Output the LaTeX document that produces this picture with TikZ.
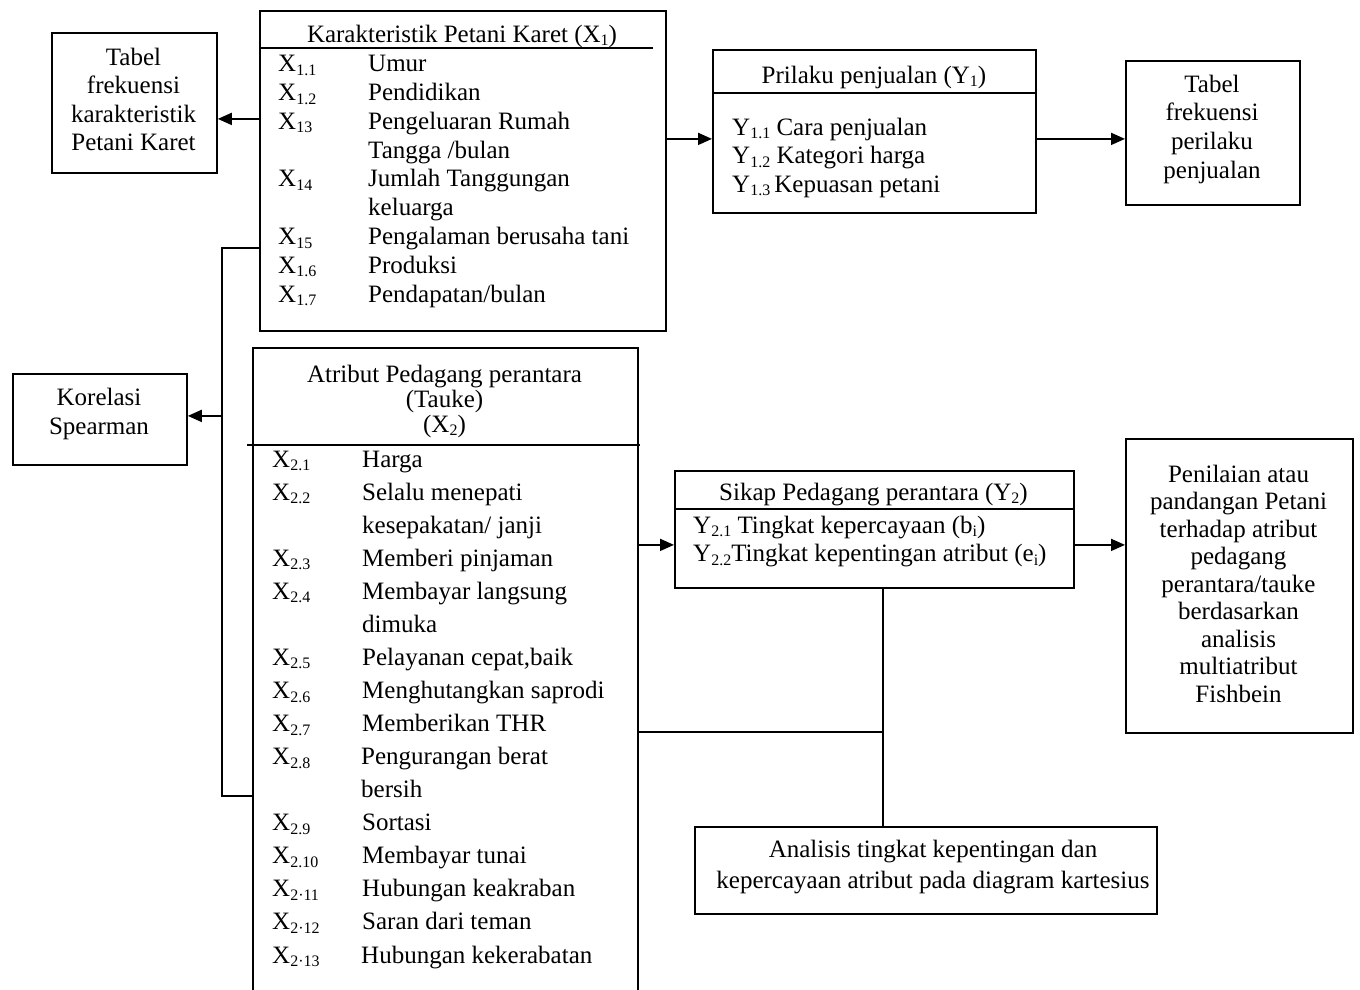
\documentclass[tikz,border=0pt]{standalone}
\usepackage{fontspec}
\setmainfont{Liberation Serif}
\usetikzlibrary{arrows.meta}
\newcommand\sbs[1]{\raisebox{-3.5pt}{\fontsize{16}{16}\selectfont #1}}
\newcommand\lbl[2]{\makebox[#1pt][l]{#2}}
\begin{document}
\begin{tikzpicture}[x=1pt,y=-1pt,
  box/.style={draw, line width=1.8pt, inner sep=0pt, anchor=north west},
  ln/.style={line width=1.8pt},
  arr/.style={line width=1.8pt, -{Triangle[length=14pt,width=12pt]}},
  txt/.style={anchor=base west, inner sep=0pt, font=\fontsize{25}{30}\selectfont},
  ctxt/.style={anchor=base, inner sep=0pt, font=\fontsize{25}{30}\selectfont}]
\useasboundingbox (0,0) rectangle (1360,989);
\clip (0,0) rectangle (1360,989);

% ---------- boxes ----------
\node[box, minimum width=406pt, minimum height=320pt] (x1) at (259,10) {};
\node[box, minimum width=165pt, minimum height=140pt] (tk) at (51,32) {};
\node[box, minimum width=323pt, minimum height=163pt] (pr) at (712,49) {};
\node[box, minimum width=174pt, minimum height=144pt] (tp) at (1125,60) {};
\node[box, minimum width=174pt, minimum height=91pt] (ko) at (12,373) {};
\node[box, minimum width=385pt, minimum height=700pt] (x2) at (252,347) {};
\node[box, minimum width=399pt, minimum height=117pt] (sk) at (674,470) {};
\node[box, minimum width=227pt, minimum height=294pt] (pn) at (1125,438) {};
\node[box, minimum width=462pt, minimum height=87pt] (an) at (694,826) {};

% header rules
\draw[ln] (259,48) -- (653,48);
\draw[ln] (712,93) -- (1035,93);
\draw[ln] (247,445) -- (640,445);
\draw[ln] (674,509) -- (1073,509);

% ---------- X1 ----------
\node[ctxt] (x1t) at (462,42) {Karakteristik Petani Karet (X\sbs{1})};
\node[txt] (x1a) at (278,71.7) {\lbl{90}{X\sbs{1.1}}Umur};
\node[txt] (x1b) at (278,100.5) {\lbl{90}{X\sbs{1.2}}Pendidikan};
\node[txt] (x1c) at (278,129.3) {\lbl{90}{X\sbs{13}}Pengeluaran Rumah};
\node[txt] (x1d) at (368,158.1) {Tangga /bulan};
\node[txt] (x1e) at (278,186.9) {\lbl{90}{X\sbs{14}}Jumlah Tanggungan};
\node[txt] (x1f) at (368,215.7) {keluarga};
\node[txt] (x1g) at (278,244.5) {\lbl{90}{X\sbs{15}}Pengalaman berusaha tani};
\node[txt] (x1h) at (278,273.3) {\lbl{90}{X\sbs{1.6}}Produksi};
\node[txt] (x1i) at (278,302.1) {\lbl{90}{X\sbs{1.7}}Pendapatan/bulan};

% ---------- Tabel karakteristik ----------
\node[ctxt] (tk1) at (133.5,65) {Tabel};
\node[ctxt] (tk2) at (133.5,93.5) {frekuensi};
\node[ctxt] (tk3) at (133.5,122) {karakteristik};
\node[ctxt] (tk4) at (133.5,150.5) {Petani Karet};

% ---------- Prilaku ----------
\node[ctxt] (prt) at (874,83) {Prilaku penjualan (Y\sbs{1})};
\node[txt] (pra) at (732,135) {Y\sbs{1.1} Cara penjualan};
\node[txt] (prb) at (732,163.5) {Y\sbs{1.2} Kategori harga};
\node[txt] (prc) at (732,192) {Y\sbs{1.3}\,Kepuasan petani};

% ---------- Tabel perilaku ----------
\node[ctxt] (tp1) at (1212,92) {Tabel};
\node[ctxt] (tp2) at (1212,120.8) {frekuensi};
\node[ctxt] (tp3) at (1212,149.6) {perilaku};
\node[ctxt] (tp4) at (1212,178.4) {penjualan};

% ---------- Korelasi ----------
\node[ctxt] (ko1) at (99,405) {Korelasi};
\node[ctxt] (ko2) at (99,434) {Spearman};

% ---------- X2 ----------
\node[ctxt] (x2t1) at (444.5,382) {Atribut Pedagang perantara};
\node[ctxt] (x2t2) at (444.5,407) {(Tauke)};
\node[ctxt] (x2t3) at (444.5,432) {(X\sbs{2})};
\node[txt] (x2a) at (272,467) {\lbl{90}{X\sbs{2.1}}Harga};
\node[txt] (x2b) at (272,500.07) {\lbl{90}{X\sbs{2.2}}Selalu menepati};
\node[txt] (x2c) at (362,533.14) {kesepakatan/ janji};
\node[txt] (x2d) at (272,566.21) {\lbl{90}{X\sbs{2.3}}Memberi pinjaman};
\node[txt] (x2e) at (272,599.28) {\lbl{90}{X\sbs{2.4}}Membayar langsung};
\node[txt] (x2f) at (362,632.35) {dimuka};
\node[txt] (x2g) at (272,665.42) {\lbl{90}{X\sbs{2.5}}Pelayanan cepat,baik};
\node[txt] (x2h) at (272,698.49) {\lbl{90}{X\sbs{2.6}}Menghutangkan saprodi};
\node[txt] (x2i) at (272,731.56) {\lbl{90}{X\sbs{2.7}}Memberikan THR};
\node[txt] (x2j) at (272,764.63) {\lbl{89}{X\sbs{2.8}}Pengurangan berat};
\node[txt] (x2k) at (361,797.70) {bersih};
\node[txt] (x2l) at (272,830.77) {\lbl{90}{X\sbs{2.9}}Sortasi};
\node[txt] (x2m) at (272,863.84) {\lbl{90}{X\sbs{2.10}}Membayar tunai};
\node[txt] (x2n) at (272,896.91) {\lbl{90}{X\sbs{2·11}}Hubungan keakraban};
\node[txt] (x2o) at (272,929.98) {\lbl{90}{X\sbs{2·12}}Saran dari teman};
\node[txt] (x2p) at (272,963.05) {\lbl{89}{X\sbs{2·13}}Hubungan kekerabatan};

% ---------- Sikap ----------
\node[ctxt] (skt) at (873.5,500) {Sikap Pedagang perantara (Y\sbs{2})};
\node[txt] (ska) at (693,533) {Y\sbs{2.1} Tingkat kepercayaan (b\sbs{i})};
\node[txt] (skb) at (693,561.5) {Y\sbs{2.2}Tingkat kepentingan atribut (e\sbs{i})};

% ---------- Penilaian ----------
\node[ctxt] (pn1) at (1238.5,482) {Penilaian atau};
\node[ctxt] (pn2) at (1238.5,509.5) {pandangan Petani};
\node[ctxt] (pn3) at (1238.5,537) {terhadap atribut};
\node[ctxt] (pn4) at (1238.5,564.5) {pedagang};
\node[ctxt] (pn5) at (1238.5,592) {perantara/tauke};
\node[ctxt] (pn6) at (1238.5,619.5) {berdasarkan};
\node[ctxt] (pn7) at (1238.5,647) {analisis};
\node[ctxt] (pn8) at (1238.5,674.5) {multiatribut};
\node[ctxt] (pn9) at (1238.5,702) {Fishbein};

% ---------- Analisis ----------
\node[ctxt] (an1) at (933,857) {Analisis tingkat kepentingan dan};
\node[ctxt] (an2) at (933,888) {kepercayaan atribut pada diagram kartesius};

% ---------- connectors ----------
\coordinate (a1) at ([yshift=-16pt]tk.east);
\draw[arr] (x1.west |- a1) -- (a1);
\coordinate (a2) at ([yshift=-7.5pt]pr.west);
\draw[arr] (x1.east |- a2) -- (a2);
\draw[arr] (pr.east |- a2) -- (tp.west |- a2);

\coordinate (b1) at (222,248);
\coordinate (b2) at (222,796);
\draw[ln] (x1.west |- b1) -- (b1) -- (b2) -- (x2.west |- b2);
\coordinate (a3) at ([yshift=3.5pt]ko.east);
\draw[arr] (b1 |- a3) -- (a3);

\coordinate (a4) at ([yshift=-15.5pt]sk.west);
\draw[arr] (x2.east |- a4) -- (a4);
\draw[arr] (sk.east |- a4) -- (pn.west |- a4);

\coordinate (j) at (883,732);
\draw[ln] (x2.east |- j) -- (j);
\draw[ln] (sk.south -| j) -- (an.north -| j);
\end{tikzpicture}
\end{document}
